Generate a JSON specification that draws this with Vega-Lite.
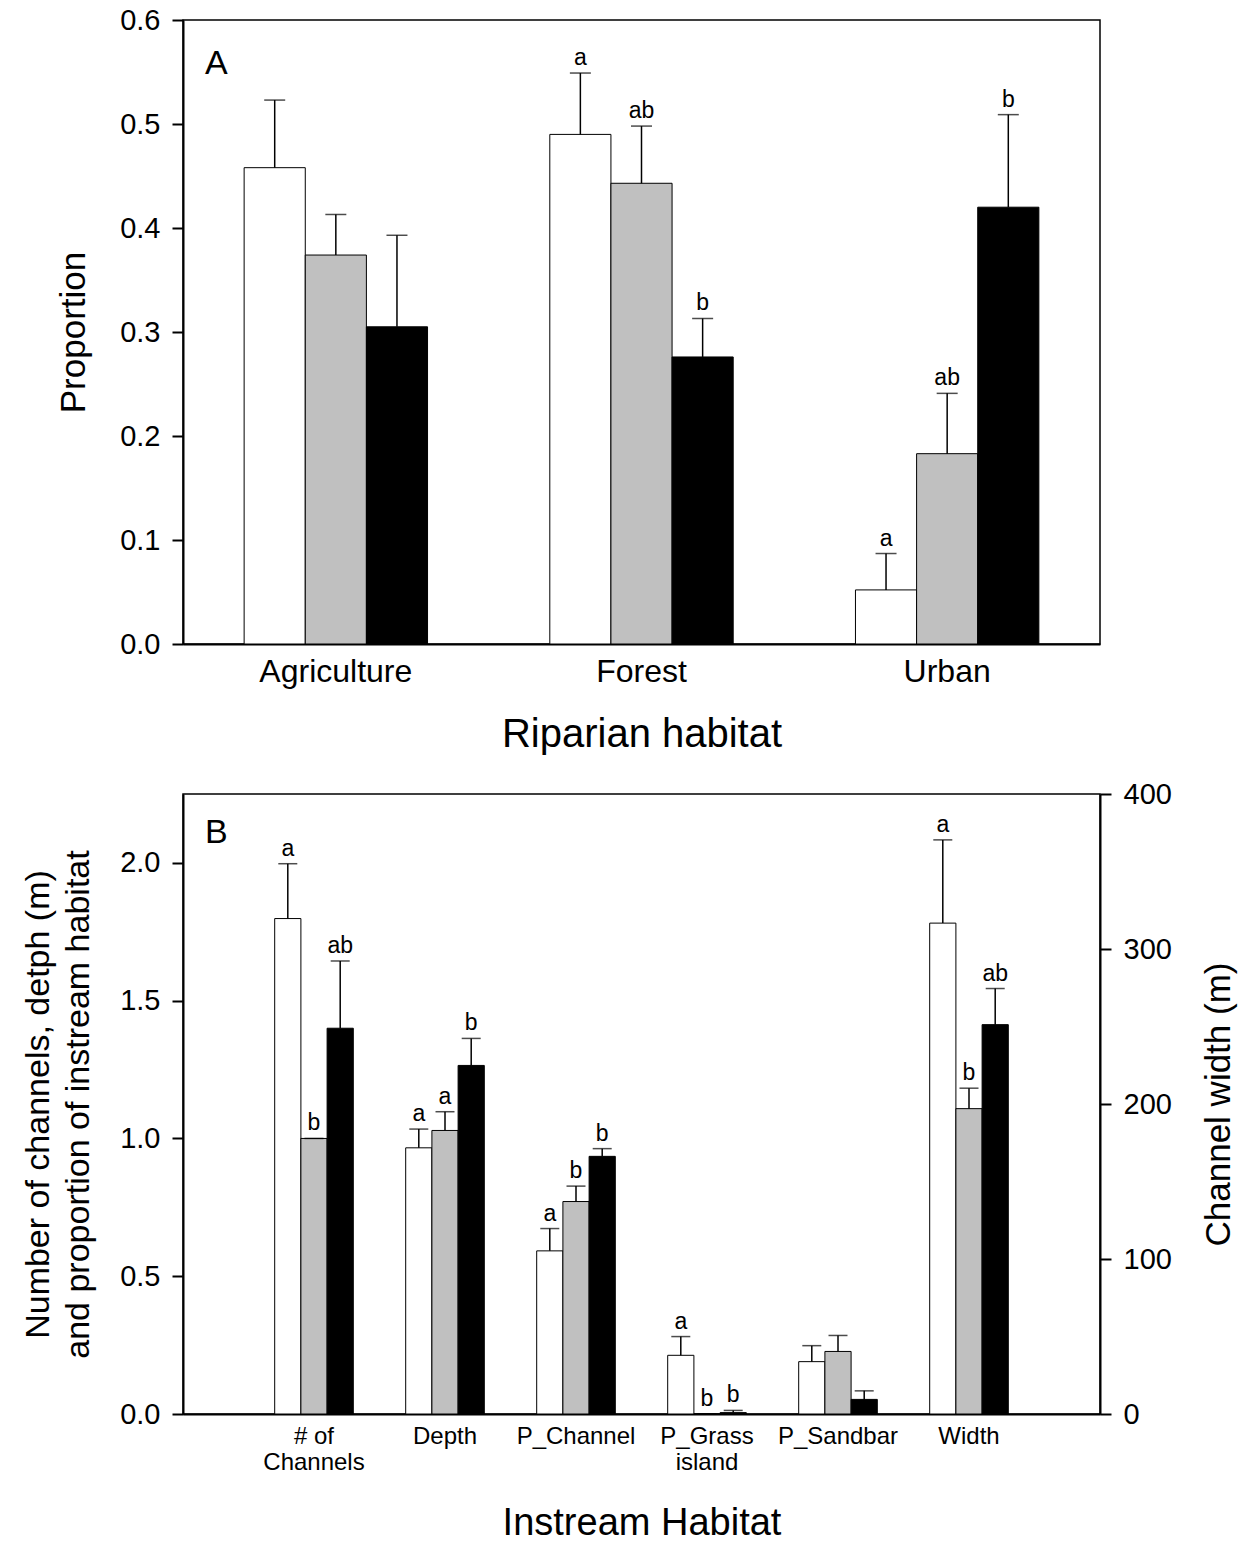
{
  "$schema": "https://vega.github.io/schema/vega-lite/v6.json",
  "padding": {"left": 20, "top": 5, "right": 5, "bottom": 0},
  "background": "white",
  "spacing": 24,
  "resolve": {"scale": {"xOffset": "independent", "x": "independent", "y": "independent"}},
  "datasets": {
    "riparian": [
      {"habitat": "Agriculture", "series": "S1", "value": 0.458, "err": 0.523, "letter": ""},
      {"habitat": "Agriculture", "series": "S2", "value": 0.374, "err": 0.413, "letter": ""},
      {"habitat": "Agriculture", "series": "S3", "value": 0.305, "err": 0.393, "letter": ""},
      {"habitat": "Forest", "series": "S1", "value": 0.490, "err": 0.549, "letter": "a"},
      {"habitat": "Forest", "series": "S2", "value": 0.443, "err": 0.498, "letter": "ab"},
      {"habitat": "Forest", "series": "S3", "value": 0.276, "err": 0.313, "letter": "b"},
      {"habitat": "Urban", "series": "S1", "value": 0.052, "err": 0.087, "letter": "a"},
      {"habitat": "Urban", "series": "S2", "value": 0.183, "err": 0.241, "letter": "ab"},
      {"habitat": "Urban", "series": "S3", "value": 0.420, "err": 0.509, "letter": "b"}
    ],
    "instream": [
      {"habitat": "# of Channels", "series": "S1", "value": 1.798, "err": 1.997, "letter": "a"},
      {"habitat": "# of Channels", "series": "S2", "value": 1.0, "err": 1.0, "letter": "b"},
      {"habitat": "# of Channels", "series": "S3", "value": 1.40, "err": 1.644, "letter": "ab"},
      {"habitat": "Depth", "series": "S1", "value": 0.966, "err": 1.034, "letter": "a"},
      {"habitat": "Depth", "series": "S2", "value": 1.029, "err": 1.097, "letter": "a"},
      {"habitat": "Depth", "series": "S3", "value": 1.265, "err": 1.363, "letter": "b"},
      {"habitat": "P_Channel", "series": "S1", "value": 0.592, "err": 0.673, "letter": "a"},
      {"habitat": "P_Channel", "series": "S2", "value": 0.771, "err": 0.827, "letter": "b"},
      {"habitat": "P_Channel", "series": "S3", "value": 0.935, "err": 0.963, "letter": "b"},
      {"habitat": "P_Grass island", "series": "S1", "value": 0.213, "err": 0.281, "letter": "a"},
      {"habitat": "P_Grass island", "series": "S2", "value": 0.0, "err": 0.0, "letter": "b"},
      {"habitat": "P_Grass island", "series": "S3", "value": 0.005, "err": 0.013, "letter": "b"},
      {"habitat": "P_Sandbar", "series": "S1", "value": 0.190, "err": 0.248, "letter": ""},
      {"habitat": "P_Sandbar", "series": "S2", "value": 0.227, "err": 0.285, "letter": ""},
      {"habitat": "P_Sandbar", "series": "S3", "value": 0.053, "err": 0.084, "letter": ""},
      {"habitat": "Width", "series": "S1", "value": 316.7, "err": 370.4, "letter": "a"},
      {"habitat": "Width", "series": "S2", "value": 197.0, "err": 210.2, "letter": "b"},
      {"habitat": "Width", "series": "S3", "value": 251.2, "err": 274.5, "letter": "ab"}
    ]
  },
  "vconcat": [
    {
      "data": {"name": "riparian"},
      "width": 917,
      "height": 624,
      "title": {"text": "A", "anchor": "start", "frame": "group", "orient": "top", "fontSize": 34, "fontWeight": "normal", "font": "Liberation Sans", "color": "black", "dx": 22, "dy": 109, "offset": 0, "baseline": "bottom"},
      "encoding": {
        "x": {
          "field": "habitat", "type": "nominal",
          "sort": ["Agriculture", "Forest", "Urban"],
          "scale": {"domain": ["Agriculture", "Forest", "Urban"], "paddingInner": 0.4, "paddingOuter": 0.2},
          "axis": {"title": "Riparian habitat", "labelAngle": 0, "ticks": false, "labelFontSize": 32, "labelPadding": 12, "titlePadding": 27, "titleFontSize": 40}
        },
        "xOffset": {"field": "series", "type": "nominal", "sort": ["S1", "S2", "S3"], "scale": {"paddingInner": 0, "paddingOuter": 0}}
      },
      "layer": [
        {
          "mark": {"type": "bar", "stroke": "black", "strokeWidth": 1},
          "encoding": {
            "y": {"field": "value", "type": "quantitative", "scale": {"domain": [0, 0.6], "nice": false},
              "axis": {"title": "Proportion", "values": [0, 0.1, 0.2, 0.3, 0.4, 0.5, 0.6], "format": ".1f", "titlePadding": 28, "titleFontSize": 35}},
            "fill": {"field": "series", "type": "nominal", "scale": {"domain": ["S1", "S2", "S3"], "range": ["#ffffff", "#c0c0c0", "#000000"]}, "legend": null}
          }
        },
        {
          "mark": {"type": "rule", "color": "black", "strokeWidth": 1.5},
          "encoding": {
            "y": {"field": "value", "type": "quantitative", "title": "Proportion"},
            "y2": {"field": "err"}
          }
        },
        {
          "mark": {"type": "tick", "color": "black", "thickness": 1.5, "size": 21},
          "encoding": {"y": {"field": "err", "type": "quantitative", "title": "Proportion"}}
        },
        {
          "mark": {"type": "text", "baseline": "bottom", "dy": -3, "fontSize": 23, "font": "Liberation Sans", "color": "black"},
          "encoding": {"y": {"field": "err", "type": "quantitative", "title": "Proportion"}, "text": {"field": "letter"}}
        }
      ]
    },
    {
      "data": {"name": "instream"},
      "width": 917,
      "height": 620,
      "title": {"text": "B", "anchor": "start", "frame": "group", "orient": "top", "fontSize": 34, "fontWeight": "normal", "font": "Liberation Sans", "color": "black", "dx": 22, "dy": 104, "offset": 0, "baseline": "bottom"},
      "encoding": {
        "x": {
          "field": "habitat", "type": "nominal",
          "sort": ["# of Channels", "Depth", "P_Channel", "P_Grass island", "P_Sandbar", "Width"],
          "scale": {"domain": ["# of Channels", "Depth", "P_Channel", "P_Grass island", "P_Sandbar", "Width"], "paddingInner": 0.4, "paddingOuter": 0.7},
          "axis": {"title": "Instream Habitat", "labelAngle": 0, "ticks": false, "labelFontSize": 24, "labelPadding": 10, "labelLineHeight": 26, "titlePadding": 30, "titleFontSize": 38,
            "labelExpr": "datum.value == '# of Channels' ? ['# of', 'Channels'] : datum.value == 'P_Grass island' ? ['P_Grass', 'island'] : datum.value"}
        },
        "xOffset": {"field": "series", "type": "nominal", "sort": ["S1", "S2", "S3"], "scale": {"paddingInner": 0, "paddingOuter": 0}}
      },
      "layer": [
        {
          "transform": [{"filter": "datum.habitat != 'Width'"}],
          "layer": [
            {
              "mark": {"type": "bar", "stroke": "black", "strokeWidth": 1},
              "encoding": {
                "y": {"field": "value", "type": "quantitative", "scale": {"domain": [0, 2.25], "nice": false},
                  "axis": {"title": ["Number of channels, detph (m)", "and proportion of instream habitat"], "values": [0, 0.5, 1.0, 1.5, 2.0], "format": ".1f", "titlePadding": 24, "titleFontSize": 34, "titleLineHeight": 40}},
                "fill": {"field": "series", "type": "nominal", "scale": {"domain": ["S1", "S2", "S3"], "range": ["#ffffff", "#c0c0c0", "#000000"]}, "legend": null}
              }
            },
            {
              "mark": {"type": "rule", "color": "black", "strokeWidth": 1.5},
              "encoding": {
                "y": {"field": "value", "type": "quantitative", "title": ["Number of channels, detph (m)", "and proportion of instream habitat"]},
                "y2": {"field": "err"}
              }
            },
            {
              "mark": {"type": "tick", "color": "black", "thickness": 1.5, "size": 19},
              "encoding": {"y": {"field": "err", "type": "quantitative", "title": ["Number of channels, detph (m)", "and proportion of instream habitat"]}}
            },
            {
              "mark": {"type": "text", "baseline": "bottom", "dy": -3, "fontSize": 23, "font": "Liberation Sans", "color": "black"},
              "encoding": {"y": {"field": "err", "type": "quantitative", "title": ["Number of channels, detph (m)", "and proportion of instream habitat"]}, "text": {"field": "letter"}}
            }
          ]
        },
        {
          "transform": [{"filter": "datum.habitat == 'Width'"}],
          "layer": [
            {
              "mark": {"type": "bar", "stroke": "black", "strokeWidth": 1},
              "encoding": {
                "y": {"field": "value", "type": "quantitative", "scale": {"domain": [0, 400], "nice": false},
                  "axis": {"orient": "right", "title": "Channel width (m)", "titleAngle": 270, "titleBaseline": "top", "values": [0, 100, 200, 300, 400], "titlePadding": 30, "titleFontSize": 35}},
                "fill": {"field": "series", "type": "nominal", "scale": {"domain": ["S1", "S2", "S3"], "range": ["#ffffff", "#c0c0c0", "#000000"]}, "legend": null}
              }
            },
            {
              "mark": {"type": "rule", "color": "black", "strokeWidth": 1.5},
              "encoding": {
                "y": {"field": "value", "type": "quantitative", "title": "Channel width (m)"},
                "y2": {"field": "err"}
              }
            },
            {
              "mark": {"type": "tick", "color": "black", "thickness": 1.5, "size": 19},
              "encoding": {"y": {"field": "err", "type": "quantitative", "title": "Channel width (m)"}}
            },
            {
              "mark": {"type": "text", "baseline": "bottom", "dy": -3, "fontSize": 23, "font": "Liberation Sans", "color": "black"},
              "encoding": {"y": {"field": "err", "type": "quantitative", "title": "Channel width (m)"}, "text": {"field": "letter"}}
            }
          ]
        }
      ],
      "resolve": {"scale": {"y": "independent"}}
    }
  ],
  "config": {
    "font": "Liberation Sans",
    "view": {"stroke": "black", "strokeWidth": 1.5},
    "axis": {
      "grid": false,
      "domainColor": "black",
      "domainWidth": 2,
      "tickColor": "black",
      "tickWidth": 2,
      "tickSize": 11,
      "labelColor": "black",
      "labelFont": "Liberation Sans",
      "labelFontSize": 29,
      "labelPadding": 12,
      "titleColor": "black",
      "titleFont": "Liberation Sans",
      "titleFontSize": 34,
      "titleFontWeight": "normal"
    }
  }
}
